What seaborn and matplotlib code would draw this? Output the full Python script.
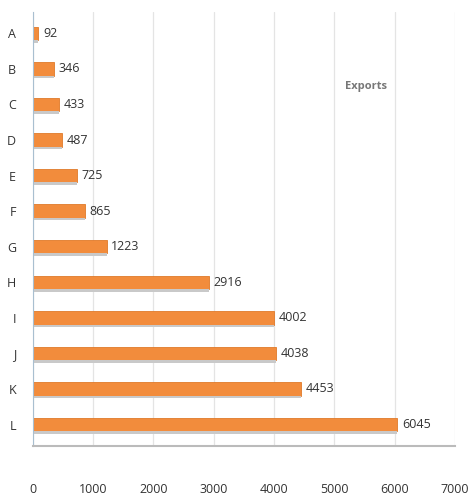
import pandas as pd
import matplotlib
matplotlib.use("Agg")
import matplotlib.pyplot as plt
import seaborn as sns

categories = ['A', 'B', 'C', 'D', 'E', 'F', 'G', 'H', 'I', 'J', 'K', 'L']
exports = [92, 346, 433, 487, 725, 865, 1223, 2916, 4002, 4038, 4453, 6045]
xticks = [0, 1000, 2000, 3000, 4000, 5000, 6000, 7000]

df = pd.DataFrame({'cat': categories, 'Exports': exports})

sns.set_style('white')
plt.rcParams['font.family'] = ['Open Sans', 'DejaVu Sans']

fig = plt.figure(figsize=(4.69, 5.01), dpi=100)
ax = fig.add_axes([0.070, 0.110, 0.900, 0.866])

sns.barplot(data=df, y='cat', x='Exports', orient='h', color='#f28c3c',
            width=0.38, saturation=1, ax=ax, edgecolor='#e07a2a', linewidth=0.6)

# light shadow under bars
for p in ax.patches:
    ax.add_patch(plt.Rectangle((p.get_x(), p.get_y() + p.get_height()), p.get_width(), 0.07,
                               color='#c9c9c9', zorder=1, lw=0))

for i, v in enumerate(exports):
    ax.text(v + 80, i, str(v), va='center', ha='left', fontsize=9, color='#333333')

ax.set_xlim(0, 7000)
ax.set_ylim(11.6, -0.6)
ax.set_xticks(xticks)
ax.set_xticklabels([str(t) for t in xticks], fontsize=9, color='#333333')
ax.tick_params(axis='x', pad=24, length=3, color='#aaaaaa')
ax.tick_params(axis='y', length=3, color='#aaaaaa', labelsize=9, labelcolor='#333333', pad=9)
ax.set_xlabel('')
ax.set_ylabel('')
ax.xaxis.grid(True, color='#e4e4e4', lw=0.9)
ax.set_axisbelow(True)
for s in ['top', 'right']:
    ax.spines[s].set_visible(False)
ax.spines['left'].set_color('#a9bfd0')
ax.spines['bottom'].set_color('#bbbbbb')
ax.spines['bottom'].set_linewidth(1.5)

ax.text(0.79, 0.829, 'Exports', transform=ax.transAxes, fontsize=8, color='#777777',
        fontweight='bold', ha='center', va='center')

plt.savefig('out.png', dpi=100)
